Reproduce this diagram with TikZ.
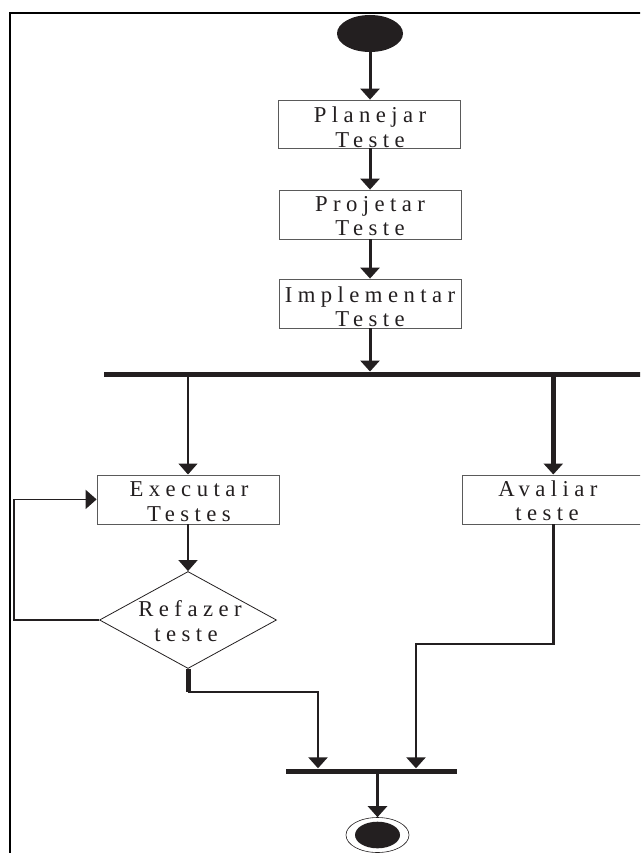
\documentclass[tikz,border=0pt]{standalone}
\usepackage{fontspec}
\setmainfont{Liberation Serif}[LetterSpace=24]
\usetikzlibrary{shapes.geometric,arrows.meta}
\definecolor{ink}{HTML}{231F20}
\definecolor{boxgray}{HTML}{5A5A5A}
\newcommand{\boxfont}{\fontsize{22.7}{24.3}\selectfont}
\begin{document}
\begin{tikzpicture}[x=1pt,y=-1pt,
  stepbox/.style={draw=boxgray, line width=0.8pt, minimum width=182pt, minimum height=49pt, inner sep=0pt},
  tx/.style={font=\boxfont, text=ink, inner sep=0pt, anchor=base},
  bar/.style={fill=ink, inner sep=0pt, draw=none},
  arr/.style={draw=ink, -{Triangle[width=19pt,length=11pt]}},
  ln/.style={draw=ink}]
\clip (0,0) rectangle (640,853);
\fill[white] (0,0) rectangle (640,853);
% frame
\draw[line width=2pt, black] (10,900) -- (10,12.7) -- (700,12.7);
% start
\node[ellipse, fill=ink, minimum width=66pt, minimum height=37pt, inner sep=0pt] (start) at (370,33.5) {};
% boxes
\node[stepbox, minimum height=48pt] (plan) at (369,124) {};
\node[stepbox] (proj) at (370,214.5) {};
\node[stepbox] (impl) at (370,303.5) {};
\node[bar, minimum width=556pt, minimum height=5.5pt] (fork) at (382,374.5) {};
\node[stepbox] (exec) at (188,499.4) {};
\node[stepbox] (aval) at (553.3,499.4) {};
\node[diamond, draw=ink, line width=0.8pt, minimum width=177pt, minimum height=97pt, aspect=1.82,
  inner sep=0pt] (dec) at (188,620) {};
\node[bar, minimum width=171pt, minimum height=5pt] (join) at (371.5,771) {};
\node[ellipse, draw=ink, line width=0.6pt, minimum width=63pt, minimum height=35pt, inner sep=0pt] (endo) at (377.5,835) {};
\node[ellipse, fill=ink, minimum width=45pt, minimum height=26.6pt, inner sep=0pt] (endi) at (endo) {};
% texts (one node per printed line, placed on its baseline)
\node[tx] (plana) at (370,123) {Planejar};
\node[tx] (planb) at (370,147.3) {Teste};
\node[tx] (proja) at (370,211.5) {Projetar};
\node[tx] (projb) at (370,235.8) {Teste};
\node[tx] (impla) at (370,302) {Implementar};
\node[tx] (implb) at (370,326.3) {Teste};
\node[tx] (execa) at (189,496.7) {Executar};
\node[tx] (execb) at (189,521) {Testes};
\node[tx] (avala) at (548,496.5) {Avaliar};
\node[tx] (avalb) at (547,520.8) {teste};
\node[tx] (deca) at (190,616.7) {Refazer};
\node[tx] (decb) at (186,641.7) {teste};
% helper coordinates
\coordinate (lp) at (14,620);
\coordinate (d1) at (188,692);
\coordinate (k1) at (318,692);
\coordinate (a1) at (553.3,644);
\coordinate (a2) at (416,644);
% connectors
\draw[arr, line width=3pt] (start.south) -- (start.south |- plan.north);
\draw[arr, line width=3pt] (plan.south -| proj.north) -- (proj.north);
\draw[arr, line width=3pt] (proj.south) -- (impl.north);
\draw[arr, line width=3pt] (impl.south) -- (impl.south |- fork.north);
\draw[arr, line width=1.5pt] (fork.south -| exec.north) -- (exec.north);
\draw[arr, line width=5pt] (fork.south -| aval.north) -- (aval.north);
\draw[arr, line width=1.5pt] (exec.south) -- (dec.north);
\draw[arr, line width=1.6pt] (dec.west) -- (lp) |- (exec.west);
\draw[ln, line width=5pt] (dec.south) -- (d1);
\draw[ln, line width=1.5pt] (d1) -- ([xshift=1.25pt]k1);
\draw[arr, line width=2.5pt] (k1) -- (k1 |- join.north);
\draw[ln, line width=3pt] (aval.south) -- (a1);
\draw[ln, line width=1.5pt] ([xshift=1.5pt]a1) -- ([xshift=-1.25pt]a2);
\draw[arr, line width=2.5pt] (a2) -- (a2 |- join.north);
\draw[arr, line width=2.5pt] (join.south -| endo.north) -- (endo.north);
\end{tikzpicture}
\end{document}
